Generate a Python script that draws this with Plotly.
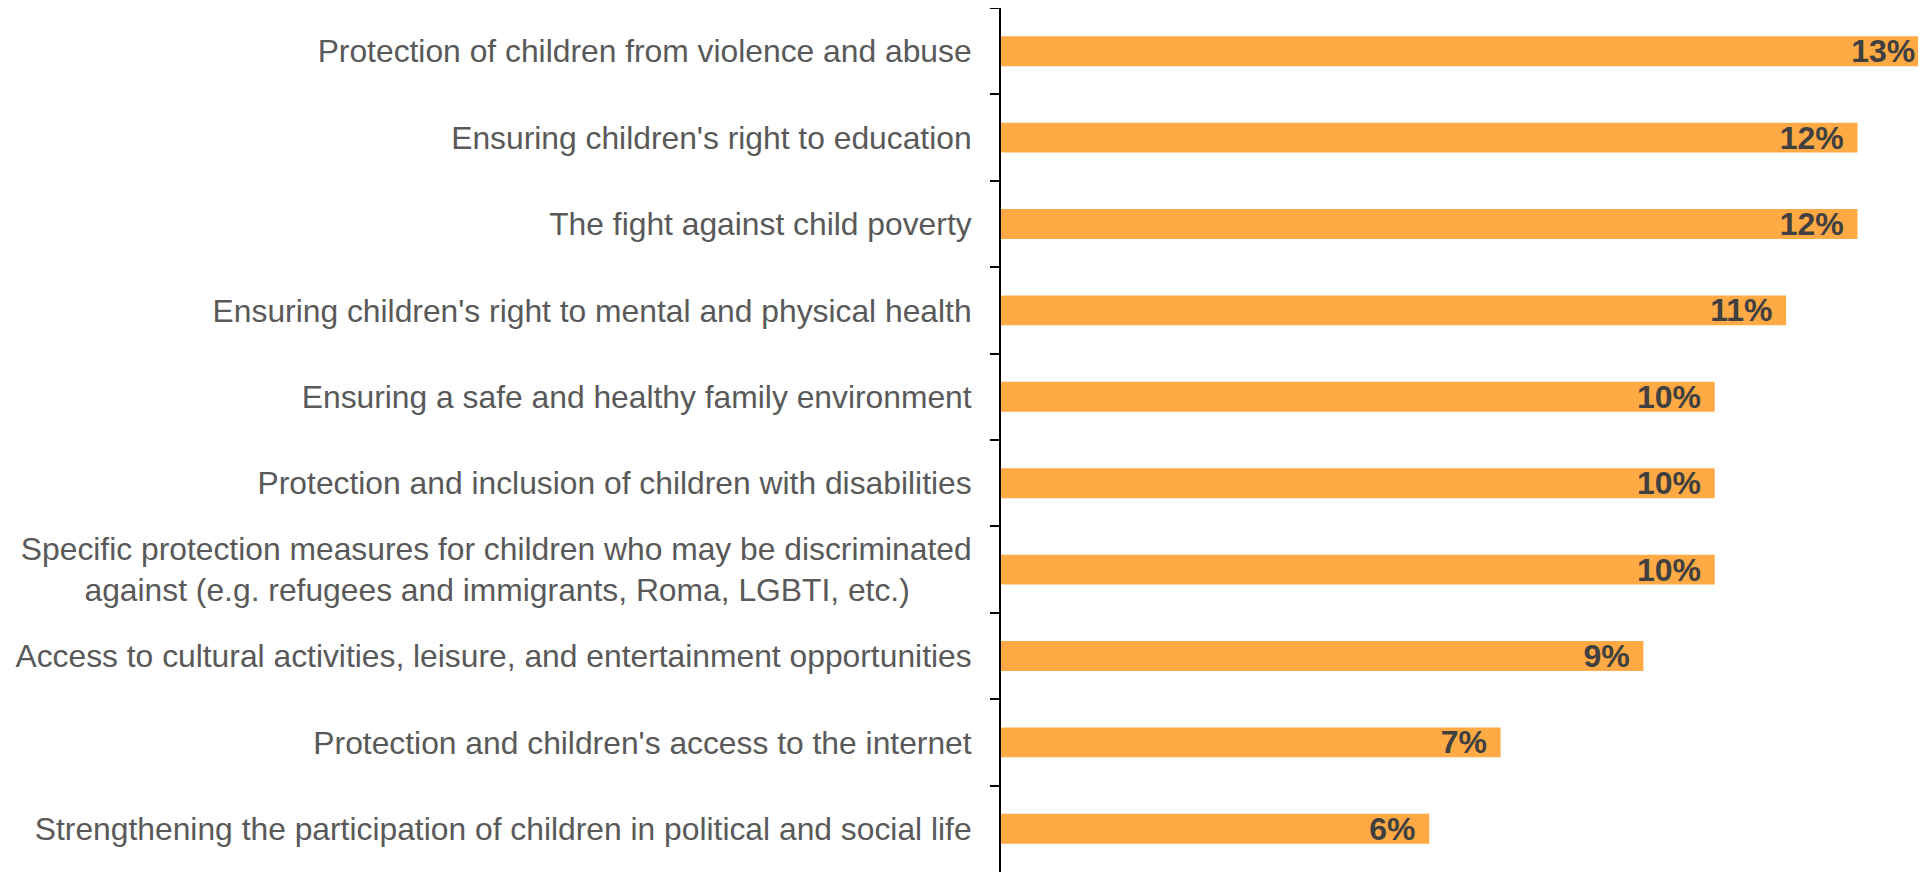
import plotly.graph_objects as go

# ── data ─────────────────────────────────────────────
categories = [
    "Protection of children from violence and abuse",
    "Ensuring children's right to education",
    "The fight against child poverty",
    "Ensuring children's right to mental and physical health",
    "Ensuring a safe and healthy family environment",
    "Protection and inclusion of children with disabilities",
    "Specific protection measures for children who may be discriminated<br>"
    "against (e.g. refugees and immigrants, Roma, LGBTI, etc.)" + "\u00a0" * 7,
    "Access to cultural activities, leisure, and entertainment opportunities",
    "Protection and children's access to the internet",
    "Strengthening the participation of children in political and social life",
]
values = [13, 12, 12, 11, 10, 10, 10, 9, 7, 6]

_BAR_COLOR = "#FFAA44"
_LABEL_COLOR = "#595959"
_VALUE_COLOR = "#404040"
_FONT = "Arial, Liberation Sans, sans-serif"

fig = go.Figure(go.Bar(
    x=values, y=categories,
    orientation="h",
    marker=dict(color=_BAR_COLOR, line=dict(width=0)),
    text=[f"{v}%\u2004" for v in values],
    textposition="inside",
    insidetextanchor="end",
    textangle=0,
    constraintext="none",
    textfont=dict(family=_FONT, size=32, color=_VALUE_COLOR, weight="bold"),
    hovertemplate="%{y}: %{x}%<extra></extra>",
))

# page body has an 8px margin, so the figure is sized to fit the window
fig.update_layout(
    width=1918, height=864,
    margin=dict(l=993, r=0, t=0, b=0),
    paper_bgcolor="white",
    plot_bgcolor="white",
    bargap=0.654,
    showlegend=False,
    font=dict(family=_FONT, color=_LABEL_COLOR),
)

fig.update_xaxes(
    range=[0, 12.96],
    showgrid=False, zeroline=False, showline=False,
    showticklabels=False, ticks="",
)

fig.update_yaxes(
    autorange="reversed",
    showline=True, linecolor="black", linewidth=2,
    ticks="outside", tickson="boundaries", ticklen=9,
    tickcolor="black", tickwidth=2,
    tickfont=dict(family=_FONT, size=31.8, color=_LABEL_COLOR),
    ticklabelstandoff=21,
    showgrid=False,
    automargin=False,
)

fig.write_html("out.html")
